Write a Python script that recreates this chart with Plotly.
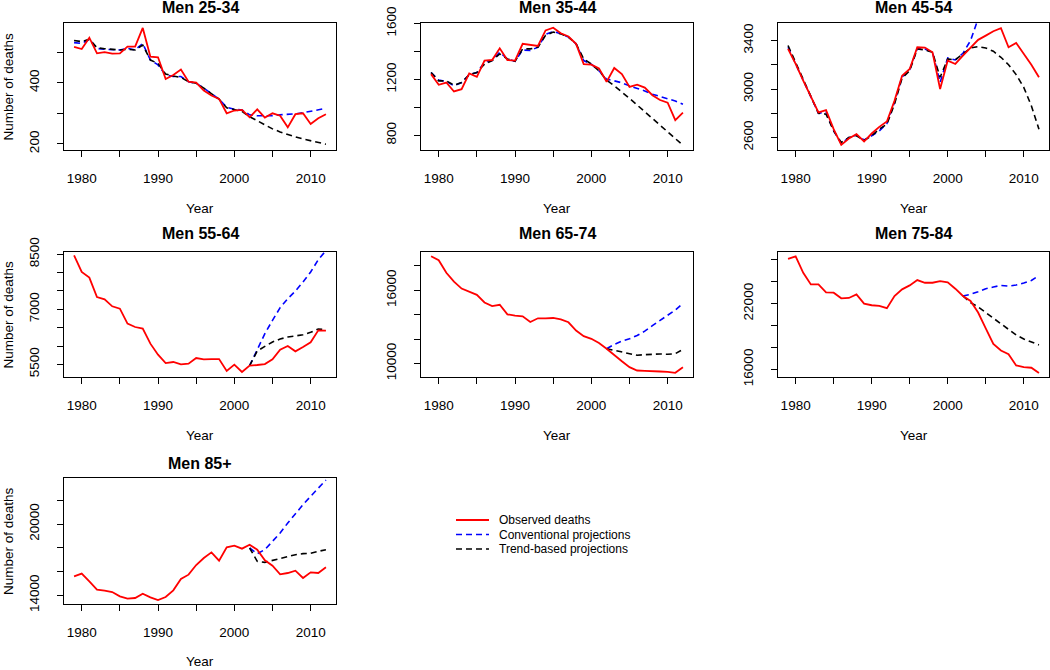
import plotly.graph_objects as go

W, H = 1050, 670
FONT = "Liberation Sans, Arial, sans-serif"

years = list(range(1979, 2013))
proj_years = list(range(2002, 2013))

titles = ["Men 25-34", "Men 35-44", "Men 45-54", "Men 55-64",
          "Men 65-74", "Men 75-84", "Men 85+"]

# ---- Men 25-34 ----
obs_25_34 = [517, 510, 547, 496, 500, 495, 496, 518, 518, 579,
             485, 483, 412, 425, 443, 403, 400, 374, 358, 347,
             300, 309, 311, 287, 313, 286, 300, 292, 254, 297,
             300, 265, 284, 297]
conv_25_34 = [531, 528, 542, 512, 509, 507, 507, 512, 507, 528,
              474, 458, 425, 420, 420, 403, 398, 382, 363, 346,
              320, 313, 311, 295, 292, 292, 292, 295, 296, 298,
              302, 307, 311, 316]
trend_25_34 = [538, 534, 542, 514, 511, 510, 507, 509, 507, 523,
               474, 463, 428, 422, 417, 403, 398, 382, 363, 346,
               318, 311, 306, 289, 276, 262, 249, 239, 230, 223,
               216, 211, 205, 199]

# ---- Men 35-44 ----
obs_35_44 = [1238, 1162, 1178, 1114, 1130, 1243, 1219, 1335, 1339, 1423,
             1339, 1335, 1455, 1447, 1440, 1551, 1570, 1531, 1507, 1455,
             1310, 1306, 1279, 1183, 1282, 1238, 1147, 1162, 1142, 1087,
             1053, 1034, 909, 962]
conv_35_44 = [1250, 1195, 1186, 1154, 1178, 1234, 1250, 1322, 1335, 1395,
              1347, 1330, 1411, 1407, 1431, 1522, 1543, 1527, 1503, 1455,
              1335, 1310, 1262, 1202, 1190, 1176, 1154, 1138, 1118, 1094,
              1077, 1063, 1046, 1022]
trend_35_44 = [1250, 1190, 1190, 1159, 1178, 1234, 1250, 1310, 1335, 1383,
               1347, 1330, 1419, 1419, 1431, 1515, 1539, 1527, 1503, 1455,
               1347, 1310, 1262, 1195, 1154, 1111, 1065, 1017, 969, 921,
               871, 825, 777, 729]

# ---- Men 45-54 ----
obs_45_54 = [3331, 3207, 3069, 2931, 2807, 2826, 2669, 2539, 2592, 2628,
             2567, 2633, 2688, 2732, 2903, 3110, 3166, 3345, 3342, 3303,
             3000, 3235, 3207, 3276, 3345, 3406, 3441, 3477, 3502, 3345,
             3381, 3295, 3201, 3097]
conv_45_54 = [3345, 3207, 3069, 2931, 2800, 2810, 2655, 2550, 2600, 2620,
              2580, 2614, 2655, 2716, 2890, 3100, 3160, 3335, 3330, 3303,
              3055, 3257, 3240, 3295, 3400, 3580, 3760, 3930, 4090, 4240,
              4380, 4510, 4630, 4740]
trend_45_54 = [3359, 3221, 3080, 2940, 2800, 2793, 2655, 2559, 2600, 2614,
               2575, 2614, 2670, 2710, 2876, 3091, 3152, 3331, 3323, 3303,
               3097, 3248, 3240, 3290, 3339, 3350, 3339, 3312, 3262, 3201,
               3119, 3014, 2862, 2669]

# ---- Men 55-64 ----
obs_55_64 = [8473, 8018, 7864, 7336, 7273, 7082, 7018, 6609, 6518, 6473,
             6064, 5764, 5536, 5564, 5500, 5518, 5673, 5636, 5645, 5645,
             5318, 5491, 5291, 5464, 5482, 5509, 5636, 5900, 6000, 5855,
             5973, 6100, 6427, 6418]
conv_55_64 = [5464, 5882, 6336, 6700, 7045, 7291, 7500, 7745, 8018, 8354, 8600]
trend_55_64 = [5464, 5864, 5991, 6109, 6191, 6245, 6273, 6309, 6373, 6464, 6445]

# ---- Men 65-74 ----
obs_65_74 = [18785, 18461, 17433, 16703, 16136, 15866, 15622, 15001, 14703, 14811,
             14027, 13919, 13865, 13406, 13703, 13703, 13730, 13622, 13379, 12703,
             12243, 12027, 11676, 11216, 10676, 10189, 9703, 9432, 9405, 9351,
             9351, 9324, 9243, 9703]
conv_65_74 = [11216, 11568, 11838, 12027, 12298, 12649, 13108, 13514, 13919, 14379, 14920]
trend_65_74 = [11216, 11081, 10892, 10757, 10676, 10730, 10784, 10784, 10757, 10811, 11162]

# ---- Men 75-84 ----
obs_75_84 = [26077, 26318, 24810, 23754, 23754, 23030, 23000, 22487, 22517, 22849,
             22004, 21853, 21793, 21581, 22698, 23301, 23663, 24146, 23905, 23905,
             24055, 23935, 23361, 22698, 22245, 21189, 19741, 18323, 17720, 17388,
             16362, 16211, 16151, 15668]
conv_75_84 = [22698, 22849, 23090, 23361, 23512, 23663, 23603, 23693, 23874, 24116, 24568]
trend_75_84 = [22698, 22094, 21702, 21189, 20676, 20133, 19590, 19138, 18776, 18474, 18233]

# ---- Men 85+ ----
obs_85 = [15598, 15823, 15178, 14477, 14393, 14280, 13916, 13720, 13776, 14140,
          13832, 13607, 13860, 14421, 15374, 15738, 16552, 17140, 17617, 16916,
          18038, 18178, 17926, 18262, 17841, 16944, 16496, 15767, 15879, 16075,
          15458, 15935, 15879, 16355]
conv_85 = [17982, 17505, 17841, 18542, 19243, 20085, 20870, 21627, 22328, 23029, 23700]
trend_85 = [17982, 16860, 16776, 16944, 17140, 17281, 17421, 17505, 17533, 17701, 17841]

# y-axis ticks (values and which are labelled)
ytick_vals = [
    [200, 300, 400, 500],
    [800, 1000, 1200, 1400, 1600],
    [2600, 2800, 3000, 3200, 3400],
    [5500, 6000, 6500, 7000, 7500, 8000, 8500],
    [10000, 12000, 14000, 16000, 18000],
    [16000, 18000, 20000, 22000, 24000, 26000],
    [14000, 16000, 18000, 20000, 22000],
]
ytick_shown = [
    [200, 400], [800, 1200, 1600], [2600, 3000, 3400],
    [5500, 7000, 8500], [10000, 16000], [16000, 22000], [14000, 20000],
]
y_ranges = [
    [180, 595], [695, 1604], [2497, 3545], [5155, 8563],
    [8900, 19130], [15306, 26710], [13271, 23870],
]
xtick_vals = [1980, 1985, 1990, 1995, 2000, 2005, 2010]
xtick_shown = [1980, 1990, 2000, 2010]
x_range = [1977.68, 2013.32]

legend_names = ["Observed deaths", "Conventional projections", "Trend-based projections"]

panels = [
    (years, obs_25_34, years, conv_25_34, trend_25_34),
    (years, obs_35_44, years, conv_35_44, trend_35_44),
    (years, obs_45_54, years, conv_45_54, trend_45_54),
    (years, obs_55_64, proj_years, conv_55_64, trend_55_64),
    (years, obs_65_74, proj_years, conv_65_74, trend_65_74),
    (years, obs_75_84, proj_years, conv_75_84, trend_75_84),
    (years, obs_85, proj_years, conv_85, trend_85),
]

# layout geometry (pixels)
col_px = [(64, 336), (421, 693), (778, 1049)]
row_px = [(23, 150), (252, 377), (478, 604)]
title_y = [7, 233.5, 463]
year_y = [209, 436, 661]
pos = [(0, 0), (0, 1), (0, 2), (1, 0), (1, 1), (1, 2), (2, 0)]

RED, BLUE, BLACK = "#FF0000", "#0000FF", "#000000"
DASH = "6px,4px"
styles = [dict(color=RED, width=1.8), dict(color=BLUE, width=1.6, dash=DASH),
          dict(color=BLACK, width=1.6, dash=DASH)]

fig = go.Figure()
layout = dict(
    width=W, height=H, autosize=False,
    margin=dict(l=0, r=0, t=0, b=0, pad=0, autoexpand=False),
    paper_bgcolor="white", plot_bgcolor="white",
    font=dict(family=FONT, size=13.5, color="black"),
    showlegend=False,
)
annotations = []
shapes = []

for i, (yrs, obs, pyrs, conv, trend) in enumerate(panels):
    r, c = pos[i]
    sfx = "" if i == 0 else str(i + 1)
    xa, ya = "x" + sfx, "y" + sfx
    fig.add_trace(go.Scatter(x=pyrs, y=conv, mode="lines", xaxis=xa, yaxis=ya,
                             line=styles[1], name=legend_names[1], hoverinfo="skip"))
    fig.add_trace(go.Scatter(x=pyrs, y=trend, mode="lines", xaxis=xa, yaxis=ya,
                             line=styles[2], name=legend_names[2], hoverinfo="skip"))
    fig.add_trace(go.Scatter(x=yrs, y=obs, mode="lines", xaxis=xa, yaxis=ya,
                             line=styles[0], name=legend_names[0], hoverinfo="skip"))
    x0, x1 = col_px[c]
    y0, y1 = row_px[r]
    common = dict(showgrid=False, zeroline=False, showline=True, mirror=True,
                  linecolor="black", linewidth=1, ticks="outside", ticklen=6,
                  tickwidth=1, tickcolor="black", automargin=False,
                  tickfont=dict(size=13.5, family=FONT, color="black"))
    layout["xaxis" + sfx] = dict(
        common, domain=[x0 / W, x1 / W], anchor=ya, range=x_range,
        tickmode="array", tickvals=xtick_vals,
        ticktext=[str(v) if v in xtick_shown else "" for v in xtick_vals],
        ticklabelstandoff=10)
    layout["yaxis" + sfx] = dict(
        common, domain=[1 - y1 / H, 1 - y0 / H], anchor=xa, range=y_ranges[i],
        tickmode="array", tickvals=ytick_vals[i],
        ticktext=[str(v) if v in ytick_shown[i] else "" for v in ytick_vals[i]],
        tickangle=-90, ticklabelstandoff=13)
    cx = (x0 + x1) / 2 / W
    annotations.append(dict(text="<b>" + titles[i] + "</b>", x=cx, y=1 - title_y[r] / H,
                            xref="paper", yref="paper", showarrow=False,
                            xanchor="center", yanchor="middle",
                            font=dict(size=16, family=FONT, color="black")))
    annotations.append(dict(text="Year", x=cx, y=1 - year_y[r] / H,
                            xref="paper", yref="paper", showarrow=False,
                            xanchor="center", yanchor="middle",
                            font=dict(size=13.5, family=FONT, color="black")))
    if c == 0:
        annotations.append(dict(text="Number of deaths", x=8 / W,
                                y=1 - (y0 + y1) / 2 / H, textangle=-90,
                                xref="paper", yref="paper", showarrow=False,
                                xanchor="center", yanchor="middle",
                                font=dict(size=13.5, family=FONT, color="black")))

# legend (R-style, drawn as keys + labels)
leg_x0, leg_x1, leg_tx = 456, 489, 497
leg_y = [520, 534.5, 549]
for k in range(3):
    yk = 1 - leg_y[k] / H
    shapes.append(dict(type="line", xref="paper", yref="paper",
                       x0=leg_x0 / W, x1=leg_x1 / W, y0=yk, y1=yk, line=styles[k]))
    annotations.append(dict(text=legend_names[k], x=leg_tx / W, y=yk,
                            xref="paper", yref="paper", showarrow=False,
                            xanchor="left", yanchor="middle",
                            font=dict(size=12, family=FONT, color="black")))

layout["annotations"] = annotations
layout["shapes"] = shapes
fig.update_layout(**layout)

PIN = ("document.documentElement.style.margin='0';"
       "document.body.style.margin='0';document.body.style.overflow='hidden';"
       "var gd=document.getElementById('{plot_id}');"
       "gd.style.position='absolute';gd.style.left='0px';gd.style.top='0px';")
fig.write_html("out.html", post_script=PIN, config={"displayModeBar": False})
